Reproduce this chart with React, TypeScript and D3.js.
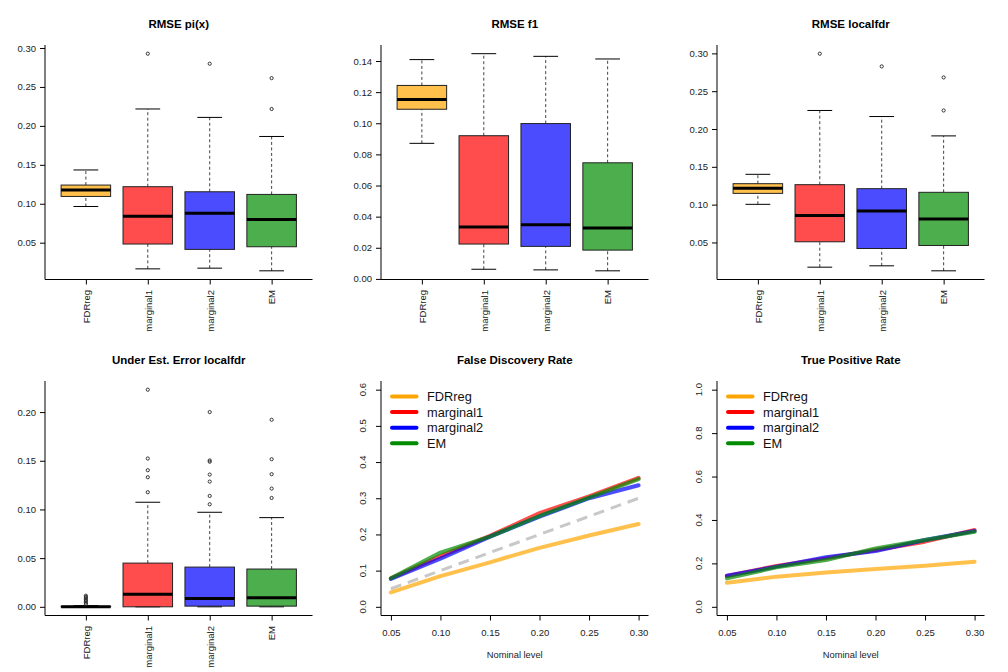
import React, { useEffect, useRef } from 'react';
import * as d3 from 'd3';

const methods = ['FDRreg', 'marginal1', 'marginal2', 'EM'];
const methodColors = ['#FFA500', '#FF0000', '#0000FF', '#008B00'];

// box stats per method: [lower whisker, q1, median, q3, upper whisker]
const rmsePiStats = [
  [0.0965, 0.1094, 0.1176, 0.124, 0.1434],
  [0.0164, 0.0483, 0.084, 0.1219, 0.2217],
  [0.0173, 0.0414, 0.0879, 0.1154, 0.2109],
  [0.0139, 0.0448, 0.0797, 0.112, 0.1864],
];
const rmsePiOut = [[], [0.2927], [0.2798], [0.2613, 0.2217]];

const rmseF1Stats = [
  [0.0871, 0.109, 0.1153, 0.1243, 0.1409],
  [0.0062, 0.0224, 0.0333, 0.092, 0.1447],
  [0.0058, 0.0209, 0.0348, 0.0998, 0.143],
  [0.0052, 0.0185, 0.0327, 0.0746, 0.1413],
];
const rmseF1Out = [[], [], [], []];

const rmseLfdrStats = [
  [0.1004, 0.1149, 0.1216, 0.1277, 0.1401],
  [0.0173, 0.0509, 0.0858, 0.1264, 0.2245],
  [0.0191, 0.042, 0.0915, 0.1211, 0.2165],
  [0.0125, 0.046, 0.0809, 0.1163, 0.1909],
];
const rmseLfdrOut = [[], [0.2996], [0.2828], [0.2682, 0.2245]];

const underStats = [
  [0, 0, 0, 0.0005, 0.0012],
  [0, 0, 0.013, 0.0449, 0.1074],
  [0, 0.0007, 0.0086, 0.0408, 0.0971],
  [0, 0.0007, 0.0093, 0.0388, 0.0916],
];
const underOut = [
  [0.0028, 0.0043, 0.0058, 0.0072, 0.0087, 0.0101, 0.0114],
  [0.223, 0.1523, 0.1403, 0.1331, 0.1177],
  [0.2, 0.1503, 0.149, 0.1358, 0.1286, 0.1139, 0.1053],
  [0.1921, 0.1516, 0.1362, 0.1214, 0.1118],
];

const tickPi = [0.05, 0.1, 0.15, 0.2, 0.25, 0.3];
const tickF1 = [0, 0.02, 0.04, 0.06, 0.08, 0.1, 0.12, 0.14];
const tickUnder = [0, 0.05, 0.1, 0.15, 0.2];

// line plots
const nominal = [0.05, 0.1, 0.15, 0.2, 0.25, 0.3];
const fdrFDRreg = [0.04, 0.085, 0.123, 0.163, 0.197, 0.229];
const fdrMarginal1 = [0.079, 0.14, 0.196, 0.259, 0.305, 0.356];
const fdrMarginal2 = [0.077, 0.133, 0.194, 0.249, 0.3, 0.336];
const fdrEM = [0.079, 0.15, 0.194, 0.251, 0.302, 0.353];

const tprFDRreg = [0.111, 0.139, 0.158, 0.174, 0.189, 0.208];
const tprMarginal1 = [0.142, 0.188, 0.223, 0.262, 0.3, 0.354];
const tprMarginal2 = [0.143, 0.185, 0.228, 0.257, 0.308, 0.349];
const tprEM = [0.131, 0.182, 0.215, 0.269, 0.308, 0.346];

const tickFdr = [0, 0.1, 0.2, 0.3, 0.4, 0.5, 0.6];
const tickTpr = [0, 0.2, 0.4, 0.6, 0.8, 1.0];

const W = 1008;
const H = 672;
const PW = 336;
const PH = 336;
const margin = { top: 45, right: 23.5, bottom: 56.5, left: 45 };
const FONT = '"Liberation Sans", Arial, Helvetica, sans-serif';
const AXIS_FS = 9.5;

type Sel = d3.Selection<SVGSVGElement, unknown, null, undefined>;

const drawTitle = (g: any, text: string) => {
  const iw = PW - margin.left - margin.right;
  g.append('text')
    .attr('x', margin.left + iw / 2)
    .attr('y', 28)
    .attr('text-anchor', 'middle')
    .attr('font-weight', 'bold')
    .attr('font-size', 11.5)
    .attr('fill', '#000')
    .text(text);
};

const drawFrame = (g: any) => {
  const iw = PW - margin.left - margin.right;
  const ih = PH - margin.top - margin.bottom;
  g.append('path')
    .attr('d', `M${margin.left},${margin.top}V${margin.top + ih}H${margin.left + iw}`)
    .attr('fill', 'none')
    .attr('stroke', '#000')
    .attr('stroke-width', 1);
};

const drawBoxPanel = (
  svg: Sel,
  col: number,
  row: number,
  title: string,
  stats: number[][],
  outliers: number[][],
  ticks: number[],
) => {
  const g = svg.append('g').attr('transform', `translate(${col * PW},${row * PH})`);
  const iw = PW - margin.left - margin.right;
  const ih = PH - margin.top - margin.bottom;

  const all = stats.flat().concat(outliers.flat());
  const [lo, hi] = d3.extent(all) as [number, number];
  const pad = (hi - lo) * 0.04;
  const y = d3.scaleLinear().domain([lo - pad, hi + pad]).range([margin.top + ih, margin.top]);
  const x = d3.scaleLinear().domain([0.34, 4.66]).range([margin.left, margin.left + iw]);
  const bw = x(0.8) - x(0);

  stats.forEach((s, i) => {
    const cx = x(i + 1);
    const b = g.append('g');
    // whiskers
    [[s[0], s[1]], [s[3], s[4]]].forEach(([a, c]) => {
      b.append('line')
        .attr('x1', cx).attr('x2', cx)
        .attr('y1', y(a)).attr('y2', y(c))
        .attr('stroke', '#444')
        .attr('stroke-width', 1)
        .attr('stroke-dasharray', '3,2.5');
    });
    // staples
    [s[0], s[4]].forEach((v) => {
      b.append('line')
        .attr('x1', cx - bw / 4).attr('x2', cx + bw / 4)
        .attr('y1', y(v)).attr('y2', y(v))
        .attr('stroke', '#000')
        .attr('stroke-width', 1);
    });
    b.append('rect')
      .attr('x', cx - bw / 2)
      .attr('y', y(s[3]))
      .attr('width', bw)
      .attr('height', Math.max(0.5, y(s[1]) - y(s[3])))
      .attr('fill', methodColors[i])
      .attr('fill-opacity', 0.7)
      .attr('stroke', '#222')
      .attr('stroke-width', 1);
    b.append('line')
      .attr('x1', cx - bw / 2).attr('x2', cx + bw / 2)
      .attr('y1', y(s[2])).attr('y2', y(s[2]))
      .attr('stroke', '#000')
      .attr('stroke-width', 3);
    b.selectAll('circle')
      .data(outliers[i])
      .join('circle')
      .attr('cx', cx)
      .attr('cy', (d: number) => y(d))
      .attr('r', 1.6)
      .attr('fill', 'none')
      .attr('stroke', '#222')
      .attr('stroke-width', 0.9);
  });

  drawFrame(g);

  g.append('g')
    .attr('transform', `translate(${margin.left},0)`)
    .call(d3.axisLeft(y).tickValues(ticks).tickSize(5).tickSizeOuter(0).tickPadding(4).tickFormat(d3.format('.2f')))
    .call((a: any) => a.select('.domain').remove())
    .call((a: any) => a.selectAll('text').attr('font-size', AXIS_FS).attr('font-family', FONT).attr('fill', '#222'));

  g.append('g')
    .attr('transform', `translate(0,${margin.top + ih})`)
    .call(d3.axisBottom(x).tickValues([1, 2, 3, 4]).tickSize(5).tickSizeOuter(0).tickFormat((d: any) => methods[d - 1]))
    .call((a: any) => a.select('.domain').remove())
    .call((a: any) =>
      a.selectAll('text')
        .attr('transform', 'rotate(-90)')
        .attr('text-anchor', 'end')
        .attr('x', -10.5)
        .attr('y', 0)
        .attr('dy', '0.35em')
        .attr('font-size', AXIS_FS)
        .attr('font-family', FONT)
        .attr('fill', '#222'),
    );

  drawTitle(g, title);
};

const drawLinePanel = (
  svg: Sel,
  col: number,
  row: number,
  title: string,
  series: number[][],
  ticks: number[],
  showRef: boolean,
) => {
  const g = svg.append('g').attr('transform', `translate(${col * PW},${row * PH})`);
  const iw = PW - margin.left - margin.right;
  const ih = PH - margin.top - margin.bottom;
  const yMax = ticks[ticks.length - 1];

  const [nlo, nhi] = d3.extent(nominal) as [number, number];
  const xp = (nhi - nlo) * 0.04;
  const x = d3.scaleLinear().domain([nlo - xp, nhi + xp]).range([margin.left, margin.left + iw]);
  const y = d3.scaleLinear().domain([-yMax * 0.04, yMax * 1.04]).range([margin.top + ih, margin.top]);

  // reference y = x (only on the FDR panel)
  if (showRef) {
    g.append('path')
      .attr('d', d3.line<number>().x((d) => x(d)).y((d) => y(d))(nominal))
      .attr('fill', 'none')
      .attr('stroke', '#C8C8C8')
      .attr('stroke-width', 3)
      .attr('stroke-dasharray', '11,7');
  }

  series.forEach((vals, i) => {
    g.append('path')
      .attr('d', d3.line<number>().x((_, j) => x(nominal[j])).y((d) => y(d))(vals))
      .attr('fill', 'none')
      .attr('stroke', methodColors[i])
      .attr('stroke-opacity', 0.7)
      .attr('stroke-width', 4)
      .attr('stroke-linejoin', 'round')
      .attr('stroke-linecap', 'round');
  });

  // legend
  const lg = g.append('g').attr('transform', `translate(${margin.left},${margin.top})`);
  methods.forEach((m, i) => {
    const ly = 15.5 + i * 15.6;
    lg.append('line')
      .attr('x1', 11).attr('x2', 35.5)
      .attr('y1', ly).attr('y2', ly)
      .attr('stroke', methodColors[i])
      .attr('stroke-width', 4)
      .attr('stroke-linecap', 'round');
    lg.append('text')
      .attr('x', 46)
      .attr('y', ly)
      .attr('dy', '0.36em')
      .attr('font-size', 12.8)
      .attr('fill', '#111')
      .text(m);
  });

  drawFrame(g);

  g.append('g')
    .attr('transform', `translate(${margin.left},0)`)
    .call(d3.axisLeft(y).tickValues(ticks).tickSize(5).tickSizeOuter(0).tickFormat(() => ''))
    .call((a: any) => a.select('.domain').remove());
  g.selectAll('text.ylab')
    .data(ticks)
    .join('text')
    .attr('class', 'ylab')
    .attr('transform', (d: number) => `translate(${margin.left - 15},${y(d)}) rotate(-90)`)
    .attr('text-anchor', 'middle')
    .attr('font-size', AXIS_FS)
    .attr('fill', '#222')
    .text((d: number) => d3.format('.1f')(d));

  g.append('g')
    .attr('transform', `translate(0,${margin.top + ih})`)
    .call(d3.axisBottom(x).tickValues(nominal).tickSize(5).tickSizeOuter(0).tickPadding(9).tickFormat(d3.format('.2f')))
    .call((a: any) => a.select('.domain').remove())
    .call((a: any) => a.selectAll('text').attr('font-size', AXIS_FS).attr('font-family', FONT).attr('fill', '#222'));

  g.append('text')
    .attr('x', margin.left + iw / 2)
    .attr('y', margin.top + ih + 42)
    .attr('text-anchor', 'middle')
    .attr('font-size', 9.3)
    .attr('fill', '#222')
    .text('Nominal level');

  drawTitle(g, title);
};

const App: React.FC = () => {
  const svgRef = useRef<SVGSVGElement | null>(null);

  useEffect(() => {
    const el = svgRef.current;
    if (!el) return;
    const svg = d3.select(el) as Sel;
    svg.selectAll('*').remove();

    drawBoxPanel(svg, 0, 0, 'RMSE pi(x)', rmsePiStats, rmsePiOut, tickPi);
    drawBoxPanel(svg, 1, 0, 'RMSE f1', rmseF1Stats, rmseF1Out, tickF1);
    drawBoxPanel(svg, 2, 0, 'RMSE localfdr', rmseLfdrStats, rmseLfdrOut, tickPi);
    drawBoxPanel(svg, 0, 1, 'Under Est. Error localfdr', underStats, underOut, tickUnder);
    drawLinePanel(svg, 1, 1, 'False Discovery Rate', [fdrFDRreg, fdrMarginal1, fdrMarginal2, fdrEM], tickFdr, true);
    drawLinePanel(svg, 2, 1, 'True Positive Rate', [tprFDRreg, tprMarginal1, tprMarginal2, tprEM], tickTpr, false);
  }, []);

  return (
    <svg
      ref={svgRef}
      width={W}
      height={H}
      fontFamily={FONT}
      style={{ position: 'absolute', left: 0, top: 0, background: '#fff' }}
    />
  );
};

export default App;
